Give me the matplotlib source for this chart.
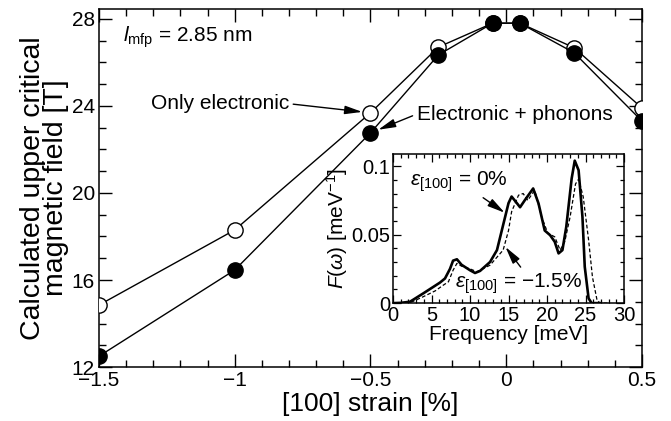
import matplotlib
matplotlib.use('Agg')
import matplotlib.pyplot as plt
from matplotlib.ticker import MultipleLocator, FixedLocator, FixedFormatter

plt.rcParams['font.family'] = ['Liberation Sans', 'DejaVu Sans']
plt.rcParams['mathtext.fontset'] = 'custom'
plt.rcParams['mathtext.rm'] = 'Liberation Sans'
plt.rcParams['mathtext.it'] = 'Liberation Sans:italic'
plt.rcParams['mathtext.bf'] = 'Liberation Sans:bold'

# ---- main panel data ----
strain = [-1.5, -1.0, -0.5, -0.25, -0.05, 0.05, 0.25, 0.5]
hc2_electronic = [14.85, 18.3, 23.68, 26.7, 27.8, 27.8, 26.67, 23.9]
hc2_phonons = [12.5, 16.46, 22.76, 26.34, 27.8, 27.8, 26.44, 23.3]

x_ticks = [-1.5, -1.0, -0.5, 0.0, 0.5]
x_ticklabels = ['\u22121.5', '\u22121', '\u22120.5', '0', '0.5']
y_ticks = [12, 16, 20, 24, 28]
y_ticklabels = ['12', '16', '20', '24', '28']

# ---- inset data (phonon DOS) ----
freq_0 = [0, 1, 2.2, 3.9, 5, 6.1, 6.75, 7.4, 7.8, 8.3, 8.9, 10, 10.65, 11.3,
          12.6, 13.5, 14.3, 15.0, 15.4, 15.8, 16.5, 17.1, 18.2, 18.9, 19.7,
          20.4, 21.0, 21.5, 22.0, 22.5, 23.2, 23.6, 24.1, 24.6, 24.9, 25.4,
          25.8, 27]
dos_0 = [0, 0.0002, 0.001, 0.007, 0.011, 0.015, 0.018, 0.025, 0.031, 0.032,
         0.028, 0.024, 0.022, 0.0235, 0.030, 0.0387, 0.057, 0.073, 0.0778,
         0.075, 0.070, 0.075, 0.0837, 0.0727, 0.053, 0.0496, 0.0448, 0.0363,
         0.0387, 0.0557, 0.091, 0.104, 0.097, 0.063, 0.0265, 0.0034, 0, 0]

freq_m15 = [0, 1, 2.5, 3.9, 5.5, 6.5, 7.2, 7.8, 8.3, 8.9, 10, 10.9, 12.6,
            14.3, 15.0, 15.4, 16.3, 16.9, 17.5, 18.4, 19.3, 20.1, 21.0, 21.7,
            22.3, 23.0, 23.7, 24.1, 24.7, 25.4, 25.9, 26.5, 26.9, 28]
dos_m15 = [0, 0.0001, 0.001, 0.0046, 0.009, 0.013, 0.0156, 0.024, 0.029,
           0.027, 0.025, 0.0229, 0.0277, 0.0387, 0.053, 0.0667, 0.0788, 0.080,
           0.075, 0.0825, 0.063, 0.051, 0.0484, 0.0387, 0.0448, 0.063, 0.087,
           0.0905, 0.0776, 0.046, 0.019, 0.002, 0, 0]

fig = plt.figure(figsize=(6.71, 4.21), dpi=100)
ax = fig.add_axes([0.1475, 0.128, 0.8093, 0.8506])

ax.plot(strain, hc2_electronic, '-o', color='black', lw=1.0, ms=11,
        mfc='white', mec='black', mew=1.0, zorder=3)
ax.plot(strain, hc2_phonons, '-o', color='black', lw=1.0, ms=11,
        mfc='black', mec='black', mew=1.0, zorder=4)

ax.set_xlim(-1.5, 0.5)
ax.set_ylim(12, 28.45)
ax.xaxis.set_major_locator(FixedLocator(x_ticks))
ax.xaxis.set_major_formatter(FixedFormatter(x_ticklabels))
ax.xaxis.set_minor_locator(MultipleLocator(0.1))
ax.yaxis.set_major_locator(FixedLocator(y_ticks))
ax.yaxis.set_major_formatter(FixedFormatter(y_ticklabels))
ax.yaxis.set_minor_locator(MultipleLocator(1))
ax.tick_params(which='both', direction='in', top=True, right=True,
               labelsize=15, width=1.0)
ax.tick_params(which='major', length=9.5, pad=3)
ax.tick_params(which='minor', length=5)
for s in ax.spines.values():
    s.set_linewidth(1.1)

ax.set_xlabel('[100] strain [%]', fontsize=19, labelpad=1)
ax.set_ylabel('Calculated upper critical\nmagnetic field [T]', fontsize=20.5,
              linespacing=0.85, labelpad=2)

ax.text(0.044, 0.92, r'$l_{\mathrm{mfp}}$ = 2.85 nm', transform=ax.transAxes,
        fontsize=15, ha='left', va='center')

arrow_kw = dict(arrowstyle='-|>,head_length=0.7,head_width=0.17', color='black',
                lw=1.0, shrinkA=1)
ax.annotate('Only electronic', xy=(strain[2], hc2_electronic[2]),
            xytext=(-0.8, 24.1), fontsize=15, ha='right', va='center',
            arrowprops=dict(relpos=(1, 0.5), shrinkB=6, **arrow_kw))
ax.annotate('Electronic + phonons', xy=(strain[2], hc2_phonons[2]),
            xytext=(-0.33, 23.62), fontsize=15, ha='left', va='center',
            arrowprops=dict(relpos=(0, 0.5), shrinkB=6, **arrow_kw))

# ---- inset ----
axi = fig.add_axes([0.5857, 0.280, 0.3443, 0.354])
axi.plot(freq_0, dos_0, '-', color='black', lw=1.9)
axi.plot(freq_m15, dos_m15, '--', color='black', lw=0.9, dashes=(3, 1.8))
axi.set_xlim(0, 30)
axi.set_ylim(0, 0.1088)
axi.xaxis.set_major_locator(MultipleLocator(5))
axi.xaxis.set_minor_locator(MultipleLocator(1))
axi.yaxis.set_major_locator(FixedLocator([0, 0.05, 0.1]))
axi.yaxis.set_major_formatter(FixedFormatter(['0', '0.05', '0.1']))
axi.yaxis.set_minor_locator(MultipleLocator(0.01))
axi.tick_params(which='both', direction='in', top=True, right=True,
                labelsize=14.5, width=0.9, pad=2)
axi.tick_params(which='major', length=5.5)
axi.tick_params(which='minor', length=3.2)
for s in axi.spines.values():
    s.set_linewidth(1.1)
axi.set_xlabel('Frequency [meV]', fontsize=15, labelpad=0)
axi.set_ylabel(r'$F(\omega)$ [meV$^{-1}$]', fontsize=15, labelpad=1)

arrow_kw2 = dict(arrowstyle='-|>,head_length=0.7,head_width=0.17', color='black',
                 lw=1.0, shrinkA=1, shrinkB=0)
axi.annotate(r'$\varepsilon_{\mathrm{[100]}}$ = 0%', xy=(14.5, 0.066),
             xytext=(2.2, 0.0885), fontsize=15, ha='left', va='center',
             arrowprops=dict(relpos=(0.68, 0.05), **arrow_kw2))
axi.annotate(r'$\varepsilon_{\mathrm{[100]}}$ = ' + '\u22121.5%',
             xy=(14.6, 0.041),
             xytext=(8.0, 0.0145), fontsize=15, ha='left', va='center',
             arrowprops=dict(relpos=(0.55, 0.95), **arrow_kw2))

fig.savefig('out.png', dpi=100)
